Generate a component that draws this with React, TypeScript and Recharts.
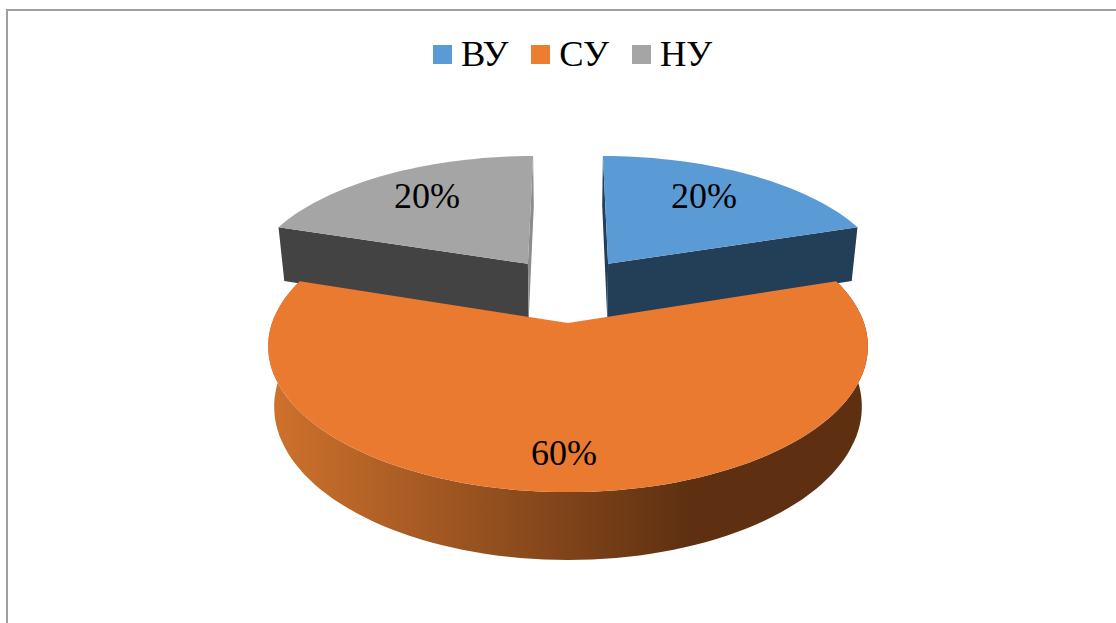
import React from 'react';
import { PieChart, Pie, Legend } from 'recharts';

const NAMES = ['ВУ', 'СУ', 'НУ'];
const VALUES = [20, 60, 20];
const COLORS = ['#5B9BD5', '#ED7D31', '#A5A5A5'];
const TOP_COLORS = ['#5B9BD5', '#E97A30', '#A5A5A5'];
const START_WALLS = ['#223F57', 'none', '#434343'];
const END_WALLS = ['#223F57', 'none', '#8C8C8C'];
const ARC_WALLS = ['none', 'url(#orangeWall)', 'none'];
const LABEL_RADIUS = [0.74, 0.8, 0.74];
const LABEL_DX = [-11, -4, 6];

const data = NAMES.map((name, i) => ({ name, value: VALUES[i], fill: COLORS[i] }));

const FONT = '"Liberation Serif", "Times New Roman", serif';
const RAD = Math.PI / 180;
const TILT = 0.48;
const EXPLODE = 0.247;
const PERSPECTIVE = 0.16;

// flat pie coordinates (u, v) -> screen, v points to the viewer
const project = (cx: number, cy: number, r: number, u: number, v: number, bottom = false) => {
    const q = v - EXPLODE;
    const w = 1 - PERSPECTIVE * q;
    const x = (r * u) / w;
    const y = (r * TILT * q) / w;
    if (!bottom) return [cx + x, cy + y];
    return [cx + x * 0.98, cy + y + 59 / (1 - 0.13 * q)];
};

const poly = (pts: number[][]) =>
    pts.map((p, i) => `${i ? 'L' : 'M'}${p[0].toFixed(1)},${p[1].toFixed(1)}`).join(' ') + ' Z';

const Slice = (props: any) => {
    const { cx, cy, outerRadius: r, startAngle, endAngle, midAngle, name } = props;
    const i = NAMES.indexOf(name);
    const ou = EXPLODE * Math.cos(midAngle * RAD);
    const ov = -EXPLODE * Math.sin(midAngle * RAD);

    const arc: number[][] = [];
    const steps = Math.ceil(Math.abs(endAngle - startAngle) / 2);
    for (let s = 0; s <= steps; s++) {
        const a = (startAngle + ((endAngle - startAngle) * s) / steps) * RAD;
        arc.push([ou + Math.cos(a), ov - Math.sin(a)]);
    }
    const top = arc.map(([u, v]) => project(cx, cy, r, u, v));
    const low = arc.map(([u, v]) => project(cx, cy, r, u, v, true));
    const apexTop = project(cx, cy, r, ou, ov);
    const apexLow = project(cx, cy, r, ou, ov, true);

    return (
        <g>
            <path d={poly([apexTop, top[0], low[0], apexLow])} fill={START_WALLS[i]} />
            <path d={poly([apexTop, top[steps], low[steps], apexLow])} fill={END_WALLS[i]} />
            <path d={poly([...top, ...[...low].reverse()])} fill={ARC_WALLS[i]} />
            <path d={poly([apexTop, ...top])} fill={TOP_COLORS[i]} />
        </g>
    );
};

// orange has to sit over the two other slices, so it goes in a second pie
const BackSlice = (props: any) => (props.name === 'СУ' ? <g /> : <Slice {...props} />);
const FrontSlice = (props: any) => (props.name === 'СУ' ? <Slice {...props} /> : <g />);

const PercentLabel = (props: any) => {
    const { cx, cy, outerRadius: r, midAngle, percent, name } = props;
    const i = NAMES.indexOf(name);
    const f = LABEL_RADIUS[i] + EXPLODE;
    const [x, y] = project(cx, cy, r, f * Math.cos(midAngle * RAD), -f * Math.sin(midAngle * RAD));
    return (
        <text x={x + LABEL_DX[i]} y={y} fill="#000" fontSize={36} fontFamily={FONT} textAnchor="middle" dominantBaseline="central">
            {`${Math.round(percent * 100)}%`}
        </text>
    );
};

// two pies feed the legend, keep one entry per name in the data order
const LegendContent = ({ payload }: any) => (
    <div style={{ display: 'flex', alignItems: 'center', fontFamily: FONT, fontSize: 36.5, lineHeight: '36px', color: '#000' }}>
        {NAMES.map((name) => {
            const item = (payload || []).find((p: any) => p.value === name);
            return (
                <div key={name} style={{ display: 'flex', alignItems: 'center', marginRight: 23 }}>
                    <span style={{ width: 19, height: 19, background: item ? item.color : undefined, marginRight: 9 }} />
                    <span>{name}</span>
                </div>
            );
        })}
    </div>
);

export default function App() {
    return (
        <div style={{ position: 'absolute', left: 0, top: 0, width: 1116, height: 623, overflow: 'hidden', background: '#fff' }}>
            <div style={{ position: 'absolute', left: 6, top: 9, width: 1200, height: 700, borderTop: '2px solid #a0a0a0', borderLeft: '2px solid #a0a0a0' }} />
            <PieChart width={1116} height={623} style={{ position: 'absolute', left: 0, top: 0 }} margin={{ top: 0, right: 0, bottom: 0, left: 0 }}>
                <defs>
                    <linearGradient id="orangeWall" gradientUnits="userSpaceOnUse" x1={270} y1={0} x2={690} y2={0}>
                        <stop offset="0%" stopColor="#CF722D" />
                        <stop offset="100%" stopColor="#5E3011" />
                    </linearGradient>
                </defs>
                <Legend
                    content={<LegendContent />}
                    wrapperStyle={{ left: 433, top: 36, width: 'auto' }}
                />
                <Pie
                    data={data}
                    dataKey="value"
                    nameKey="name"
                    cx={568}
                    cy={323}
                    outerRadius={296}
                    startAngle={90}
                    endAngle={-270}
                    shape={BackSlice}
                    stroke="none"
                    isAnimationActive={false}
                />
                <Pie
                    data={data}
                    dataKey="value"
                    nameKey="name"
                    cx={568}
                    cy={323}
                    outerRadius={296}
                    startAngle={90}
                    endAngle={-270}
                    shape={FrontSlice}
                    stroke="none"
                    legendType="none"
                    label={PercentLabel}
                    labelLine={false}
                    isAnimationActive={false}
                />
            </PieChart>
        </div>
    );
}
